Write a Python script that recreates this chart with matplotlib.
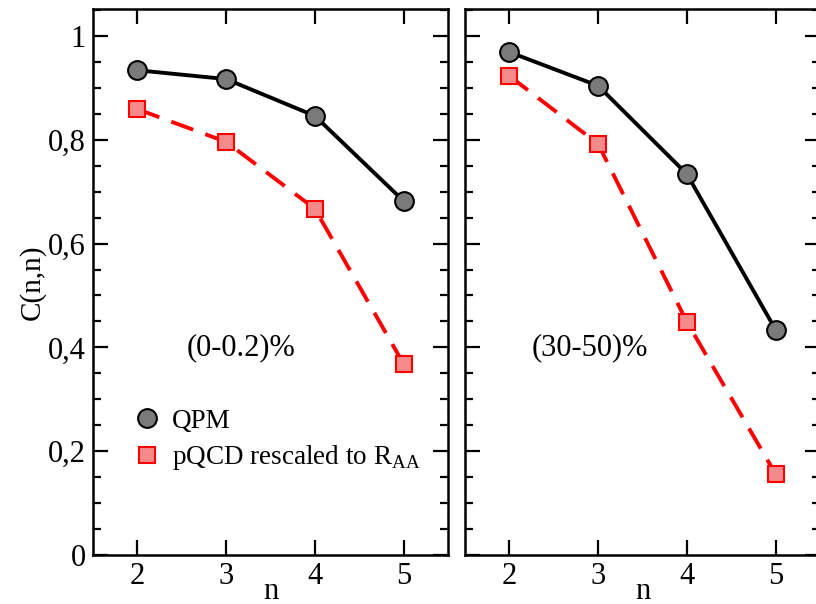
import numpy as np
import matplotlib.pyplot as plt
from matplotlib.ticker import MultipleLocator, FixedLocator, FixedFormatter

plt.rcParams['font.family'] = ['Liberation Serif', 'DejaVu Serif']
plt.rcParams['mathtext.fontset'] = 'custom'
plt.rcParams['mathtext.rm'] = 'Liberation Serif'

# harmonic order n and the C(n,n) values per centrality class
n = [2, 3, 4, 5]
qpm_central = [0.934, 0.917, 0.846, 0.682]
pqcd_central = [0.859, 0.796, 0.667, 0.368]
qpm_peripheral = [0.969, 0.904, 0.734, 0.434]
pqcd_peripheral = [0.923, 0.792, 0.449, 0.156]

yticks = [0, 0.2, 0.4, 0.6, 0.8, 1.0]
ytick_labels = ['0', '0,2', '0,4', '0,6', '0,8', '1']
panel_labels = ['(0-0.2)%', '(30-50)%']

fig = plt.figure(figsize=(8.16, 6.04), dpi=100)
ax1 = fig.add_axes([93/816, 1-555/604, 355/816, 546/604])
ax2 = fig.add_axes([465/816, 1-555/604, 355/816, 546/604])

series = [(ax1, qpm_central, pqcd_central, panel_labels[0], (3.17, 0.40)),
          (ax2, qpm_peripheral, pqcd_peripheral, panel_labels[1], (2.91, 0.40))]

for ax, qpm, pqcd, lab, pos in series:
    ax.plot(n, qpm, '-', color='black', lw=2.8, marker='o', ms=13.5,
            mfc='#7a7a7a', mec='black', mew=1.5, label='QPM', zorder=3)
    ax.plot(n, pqcd, '--', color='#ff0000', lw=2.8, dashes=(6, 3.3),
            marker='s', ms=11.5, mfc='#f48a8a', mec='#ff0000', mew=1.5,
            label=r'pQCD rescaled to R$_{\mathregular{AA}}$', zorder=2)
    ax.text(pos[0], pos[1], lab, fontsize=22, ha='center', va='center')

    ax.set_xlim(1.5, 5.5)
    ax.set_ylim(0, 1.052)
    ax.xaxis.set_major_locator(FixedLocator(n))
    ax.yaxis.set_major_locator(FixedLocator(yticks))
    ax.yaxis.set_minor_locator(MultipleLocator(0.05))
    ax.tick_params(which='both', direction='in', top=True, right=True,
                   width=1.6, labelsize=22)
    ax.tick_params(which='major', length=11, pad=5)
    ax.tick_params(which='minor', length=6)
    for sp in ax.spines.values():
        sp.set_linewidth(1.8)
    ax.set_xlabel('n', fontsize=22, labelpad=-10)

ax1.yaxis.set_major_formatter(FixedFormatter(ytick_labels))
ax1.set_ylabel('C(n,n)', fontsize=21, labelpad=2)
ax2.tick_params(labelleft=False)

leg = ax1.legend(loc='upper left', bbox_to_anchor=(0.13, 0.268), frameon=False,
                 fontsize=19.5, handlelength=0.6, handletextpad=0.6,
                 labelspacing=0.35, borderpad=0, borderaxespad=0)
for h in leg.legend_handles:
    h.set_linestyle('none')

fig.savefig('out.png', dpi=100)
